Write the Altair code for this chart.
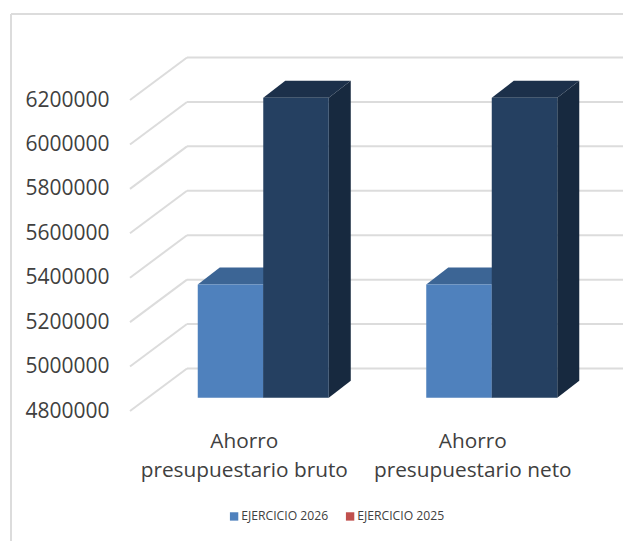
import altair as alt
import pandas as pd

categories = ["Ahorro|presupuestario bruto", "Ahorro|presupuestario neto"]
series = ["EJERCICIO 2026", "EJERCICIO 2025"]
values_2026 = [5310000, 5310000]
values_2025 = [6150000, 6150000]
ticks = [4800000, 5000000, 5200000, 5400000, 5600000, 5800000, 6000000, 6200000]

Y_MIN, Y_MAX = 4800000, 6200000
PLOT_W, PLOT_H = 457, 311
UNITS_PER_PX = (Y_MAX - Y_MIN) / PLOT_H
HALF = 32.75
BY = 13.3               # height of the bars' front above the front edge of the floor
DX, DY = 22, -17        # depth of the bars
WX, WY = 57, 42.5       # depth of the back wall
GRID = "#dcdcdc"
TEXT = "#404040"
FONT = "Open Sans"

rows = []
for name, vals, front, top, side in [
    (series[0], values_2026, "#4f81bd", "#3c6595", "#2f5078"),
    (series[1], values_2025, "#254061", "#1c304a", "#17293f"),
]:
    for c, v in zip(categories, vals):
        h = (v - Y_MIN) / UNITS_PER_PX
        l, r = -HALF, HALF
        rows.append({
            "cat": c, "series": name, "value": v,
            "front_top": v + BY * UNITS_PER_PX, "front_base": Y_MIN + BY * UNITS_PER_PX,
            "front": front, "top": top, "side": side,
            "top_path": f"M{l},{-BY} L{r},{-BY} L{r+DX},{-BY+DY} L{l+DX},{-BY+DY} Z",
            "side_path": f"M{r},{-BY} L{r+DX},{-BY+DY} L{r+DX},{-BY+DY+h} L{r},{-BY+h} Z",
        })
df = pd.DataFrame(rows)

grid_df = pd.DataFrame({"value": ticks})
grid_df["back"] = grid_df["value"] + WY * UNITS_PER_PX

y_scale = alt.Scale(domain=[Y_MIN, Y_MAX], nice=False, zero=False)
x_enc = alt.X("cat:N", sort=categories,
              scale=alt.Scale(paddingInner=0, paddingOuter=0),
              axis=alt.Axis(title=None, domain=False, ticks=False, labelAngle=0,
                            labelExpr="split(datum.label, '|')", labelFontSize=20.8,
                            labelFont=FONT, labelColor=TEXT, labelPadding=20,
                            labelLineHeight=29, labelLimit=400, labelBaseline="top"))
xo_enc = alt.XOffset("series:N", sort=series,
                     scale=alt.Scale(paddingInner=0, paddingOuter=0.744, align=0.695))
y_axis = alt.Axis(title=None, values=ticks, domain=False, ticks=False, grid=False,
                  labelFontSize=21, labelFont=FONT, labelColor=TEXT,
                  labelPadding=21, format="d")
y_enc = alt.Y("value:Q", scale=y_scale, axis=y_axis)
y_front = alt.Y("front_top:Q", scale=y_scale, axis=y_axis)

frame_src = pd.DataFrame({"a": [0]})
frame_top = alt.Chart(frame_src).mark_rule(color=GRID, strokeWidth=2).encode(
    x=alt.value(-119), x2=alt.value(493), y=alt.value(-86))
frame_left = alt.Chart(frame_src).mark_rule(color=GRID, strokeWidth=2).encode(
    x=alt.value(-119), y=alt.value(-86), y2=alt.value(441))

wall = alt.Chart(grid_df).mark_rule(color=GRID, strokeWidth=2, yOffset=-WY).encode(
    x=alt.value(WX), x2=alt.value(493), y=y_enc)
diag = alt.Chart(grid_df).mark_rule(color=GRID, strokeWidth=2).encode(
    x=alt.value(0), x2=alt.value(WX), y=y_enc, y2="back:Q")

base = alt.Chart(df)
legend_layer = base.mark_bar(opacity=0).encode(
    x=x_enc, xOffset=xo_enc, y=y_front, y2="front_base:Q",
    color=alt.Color("series:N", sort=series,
                    scale=alt.Scale(domain=series, range=["#4f81bd", "#c0504d"]),
                    legend=alt.Legend(title=None, orient="none", legendX=98, legendY=410,
                                      direction="horizontal", columns=2, symbolType="square",
                                      symbolSize=70, symbolOpacity=1, symbolStrokeWidth=0,
                                      labelFont=FONT, labelFontSize=12.2, labelColor=TEXT,
                                      labelOffset=1, columnPadding=15, labelLimit=200)))

layers = [frame_top, frame_left, wall, diag, legend_layer]
for name in series:
    part = base.transform_filter(alt.datum.series == name)
    layers.append(part.mark_point(filled=True, size=4, opacity=1, strokeWidth=0).encode(
        x=x_enc, xOffset=xo_enc, y=y_enc,
        shape=alt.Shape("side_path:N", scale=None), fill=alt.Fill("side:N", scale=None)))
    layers.append(part.mark_point(filled=True, size=4, opacity=1, strokeWidth=0).encode(
        x=x_enc, xOffset=xo_enc, y=y_enc,
        shape=alt.Shape("top_path:N", scale=None), fill=alt.Fill("top:N", scale=None)))
    layers.append(part.mark_bar().encode(
        x=x_enc, xOffset=xo_enc, y=y_front, y2="front_base:Q",
        fill=alt.Fill("front:N", scale=None)))

chart = alt.layer(*layers).properties(
    width=PLOT_W, height=PLOT_H,
    autosize=alt.AutoSizeParams(type="none"),
    padding={"left": 122, "top": 92, "right": 36, "bottom": 130},
    background="white",
).configure_view(stroke=None)

chart.save("out.html", embed_options={"renderer": "svg", "actions": False})
